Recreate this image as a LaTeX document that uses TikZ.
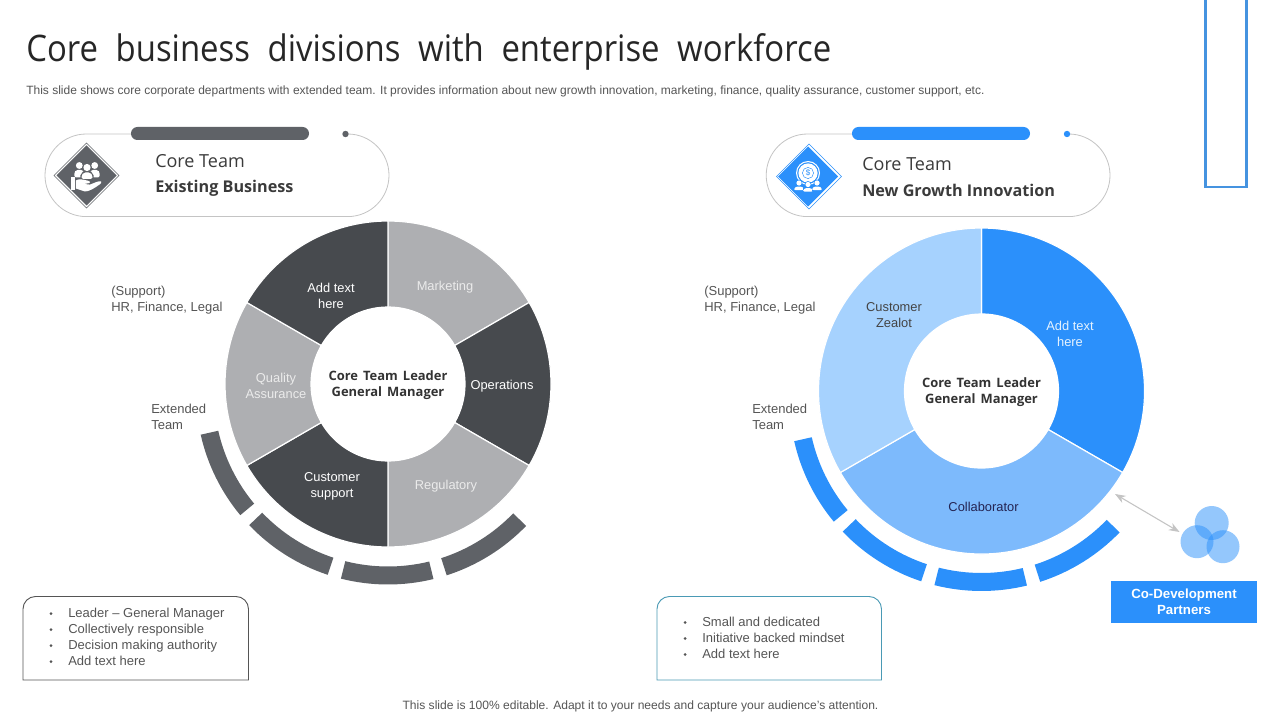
\documentclass[tikz,border=0pt]{standalone}
\usepackage{fontspec}
\setmainfont{Liberation Sans}
\newfontfamily\titlef{Open Sans}
\newfontfamily\titlefn[FakeStretch=.9]{Open Sans}
\usetikzlibrary{arrows.meta}
\definecolor{darkseg}{HTML}{474A4E}
\definecolor{greyseg}{HTML}{AEAFB2}
\definecolor{slatec}{HTML}{5F6267}
\definecolor{blueA}{HTML}{2B90FB}
\definecolor{blueB}{HTML}{7DBAFC}
\definecolor{blueC}{HTML}{A6D2FE}
\definecolor{textc}{HTML}{555555}
\definecolor{pillc}{HTML}{C4C4C4}
\definecolor{framec}{HTML}{4593E0}
\definecolor{tealc}{HTML}{4A9AB5}
\newcommand{\sector}[7]{\fill[fill=#7,draw=white,line width=.9pt]
  ([shift={(#5:#4)}]#1,-#2) arc[start angle=#5,end angle=#6,radius=#4]
  -- ([shift={(#6:#3)}]#1,-#2) arc[start angle=#6,end angle=#5,radius=#3] -- cycle;}
\newcommand{\band}[5]{\fill[fill=#5]
  ([shift={(#3:192)}]#1,-#2) arc[start angle=#3,end angle=#4,radius=192]
  -- ([shift={(#4:174)}]#1,-#2) arc[start angle=#4,end angle=#3,radius=174] -- cycle;}
\tikzset{
  x=.75pt,y=.75pt,
  lab/.style={font=\fontsize{9.75}{12}\selectfont,text=textc,align=left,inner sep=0pt},
  seg/.style={font=\fontsize{9.65}{12}\selectfont,align=center,inner sep=0pt},
  hole/.style={circle,fill=white,minimum size=115.5pt,inner sep=0pt,align=center,
     font=\titlef\bfseries\fontsize{9.7}{12}\selectfont,text=textc!60!black},
  pill/.style={draw=pillc,line width=.6pt},
  bartop/.style={rounded corners=4.8pt},
  headA/.style={font=\titlef\fontsize{13.5}{16}\selectfont,text=textc!70!black,anchor=west,inner sep=0pt},
  headB/.style={font=\titlef\bfseries\fontsize{12.15}{16}\selectfont,text=textc!70!black,anchor=west,inner sep=0pt},
  listbox/.style={line width=.7pt,rounded corners=0pt},
  ic/.style={fill=white,draw=none},
}
\begin{document}
\begin{tikzpicture}
\useasboundingbox (0,0) rectangle (1280,-720);
\fill[white] (0,0) rectangle (1280,-720);
% top right frame
\draw[framec,line width=2.2pt] (1205.5,0) -- (1205.5,-187) -- (1246.5,-187) -- (1246.5,0);
% title
\node[anchor=base west,inner sep=0pt,font=\titlefn\fontsize{27.4}{32}\selectfont,text=black!85] (title) at (26,-61.5)
  {\spaceskip=13.2pt Core business divisions with enterprise workforce};
\node[anchor=west,inner sep=0pt,font=\fontsize{9}{11}\selectfont,text=textc] (sub) at (26,-91)
  {This slide shows core corporate departments with extended team. It provides information about new growth innovation, marketing, finance, quality assurance, customer support, etc.};
\node[inner sep=0pt,font=\fontsize{9.05}{11}\selectfont,text=textc] (foot) at (640.5,-706)
  {This slide is 100\% editable. Adapt it to your needs and capture your audience’s attention.};

% left pill
\draw[pill] (131,-134) -- (86.3,-134) arc[start angle=90,end angle=270,radius=41.3] -- (347.7,-216.6) arc[start angle=-90,end angle=90,radius=41.3] -- (345,-134);
\fill[slatec,bartop] (131,-127) rectangle (309,-140);
\fill[slatec] (345.5,-134) circle[radius=3.2];
\fill[white] (86.5,-142) -- (120,-175.5) -- (86.5,-209) -- (53,-175.5) -- cycle;
\draw[slatec,line width=.5pt] (86.5,-143) -- (119,-175.5) -- (86.5,-208) -- (54,-175.5) -- cycle;
\fill[slatec] (86.5,-145.5) -- (116.5,-175.5) -- (86.5,-205.5) -- (56.5,-175.5) -- cycle;
% people + hand icon
\foreach \hx in {79.3,94.7}{
  \fill[ic] (\hx,-165.5) circle[radius=3.4];
  \fill[ic,rounded corners=1.2pt] (\hx-5,-177.5) -- (\hx-5,-172.5) -- (\hx-3,-169.8) -- (\hx+3,-169.8) -- (\hx+5,-172.5) -- (\hx+5,-177.5) -- cycle;
}
\fill[slatec] (87,-167.5) circle[radius=4.5];
\fill[ic] (87,-167.5) circle[radius=3.6];
\fill[slatec] (80.3,-179) -- (80.3,-175.5) -- (83,-171.5) -- (91,-171.5) -- (93.7,-175.5) -- (93.7,-179) -- cycle;
\fill[ic,rounded corners=1.2pt] (81.5,-179) -- (81.5,-175.5) -- (83.7,-172.5) -- (90.3,-172.5) -- (92.5,-175.5) -- (92.5,-179) -- cycle;
\fill[ic] (71,-177) rectangle (74.8,-190);
\fill[ic] (75.8,-180.5) .. controls (79,-178.5) and (83,-179.5) .. (87,-180.5) .. controls (91,-181) and (91,-183.5) .. (87,-183.5) -- (84,-184) -- (90,-184.6) .. controls (94,-183) and (99,-180.5) .. (101,-181.5) .. controls (102,-182.5) and (101,-183.5) .. (99.5,-184.5) .. controls (95,-188) and (89,-191.5) .. (85,-191.5) -- (75.8,-188.5) -- cycle;

\node[headA] (lcore) at (155,-161) {Core Team};
\node[headB] (lbiz) at (155,-188.5) {Existing Business};

% right pill
\draw[pill] (852,-134) -- (807.5,-134) arc[start angle=90,end angle=270,radius=41.3] -- (1068.7,-216.6) arc[start angle=-90,end angle=90,radius=41.3] -- (1067,-134);
\fill[blueA,bartop] (852,-127) rectangle (1030,-140);
\fill[blueA] (1067,-134) circle[radius=3.2];
\draw[blueA,line width=.5pt] (809,-144) -- (841.5,-176.5) -- (809,-209) -- (776.5,-176.5) -- cycle;
\fill[blueA] (808,-146.5) -- (838,-176.5) -- (808,-206.5) -- (778,-176.5) -- cycle;
% globe + people icon
\fill[ic] (808,-173) circle[radius=12];
\fill[blueA] (808,-173) circle[radius=10.8];
\fill[ic] (808,-173) circle[radius=9.6];
\draw[blueA,line width=.35pt] (808,-173) circle[radius=5.6];
\node[inner sep=0pt,font=\fontsize{6}{6}\selectfont,text=blueA] (dollar) at (808,-173) {\$};
\foreach \hx/\hy in {799/-183,808/-184.5,817/-183}{
  \fill[blueA] (\hx,\hy) circle[radius=3.4];
  \fill[ic] (\hx,\hy) circle[radius=2.6];
  \fill[blueA] (\hx-5.5,\hy-8) rectangle (\hx+5.5,\hy-3.2);
  \fill[ic,rounded corners=1pt] (\hx-4.8,\hy-7.2) -- (\hx-4.8,\hy-5.4) -- (\hx-3,\hy-3.6) -- (\hx+3,\hy-3.6) -- (\hx+4.8,\hy-5.4) -- (\hx+4.8,\hy-7.2) -- cycle;
}
\node[headA] (rcore) at (862,-164) {Core Team};
\node[headB] (rbiz) at (862,-190.5) {New Growth Innovation};

% left pie
\sector{388}{384}{77}{163}{30}{90}{greyseg}
\sector{388}{384}{77}{163}{-30}{30}{darkseg}
\sector{388}{384}{77}{163}{-90}{-30}{greyseg}
\sector{388}{384}{77}{163}{-150}{-90}{darkseg}
\sector{388}{384}{77}{163}{150}{210}{greyseg}
\sector{388}{384}{77}{163}{90}{150}{darkseg}
\fill[white] (388,-384) circle[radius=77];
\node[inner sep=0pt,align=center,font=\titlef\bfseries\fontsize{9.7}{12}\selectfont,text=textc!60!black] (lc) at (388,-385)
  {\spaceskip=3.8pt Core Team Leader\\\spaceskip=3.8pt General Manager};
\node[seg,text=white!92!black] (m) at (445,-287) {Marketing};
\node[seg,text=white] (o) at (502,-386) {Operations};
\node[seg,text=white!92!black] (r) at (446,-486) {Regulatory};
\node[seg,text=white] (cs) at (332,-486.5) {Customer\\support};
\node[seg,text=white!92!black] (qa) at (276,-386) {Quality\\Assurance};
\node[seg,text=white] (at) at (331,-295.5) {Add text\\here};
\band{388}{392.5}{192.7}{219.7}{slatec}
\band{388}{392.5}{223.7}{251.7}{slatec}
\band{388}{392.5}{255.8}{283.7}{slatec}
\band{388}{392.5}{287.8}{316}{slatec}

% right pie
\sector{981.5}{391}{77}{163}{-30}{90}{blueA}
\sector{981.5}{391}{77}{163}{-150}{-30}{blueB}
\sector{981.5}{391}{77}{163}{90}{210}{blueC}
\fill[white] (981.5,-391) circle[radius=77];
\node[inner sep=0pt,align=center,font=\titlef\bfseries\fontsize{9.7}{12}\selectfont,text=textc!60!black] (rc) at (981.5,-392.5)
  {\spaceskip=3.8pt Core Team Leader\\\spaceskip=3.8pt General Manager};
\node[seg,text=white!88!blueA] (rat) at (1070,-334) {Add text\\here};
\node[seg,text=textc!80!black] (cz) at (894,-315.5) {Customer\\Zealot};
\node[seg,text=textc!70!blue!60!black] (col) at (983.5,-507) {Collaborator};
\band{981.5}{399}{192.7}{219.7}{blueA}
\band{981.5}{399}{223.7}{251.7}{blueA}
\band{981.5}{399}{255.8}{283.7}{blueA}
\band{981.5}{399}{287.8}{316}{blueA}

% side labels
\node[lab,anchor=west] (ls) at (111,-300) {(Support)\\HR, Finance, Legal};
\node[lab,anchor=west] (le) at (151,-417) {Extended\\Team};
\node[lab,anchor=west] (rs) at (704,-300) {(Support)\\HR, Finance, Legal};
\node[lab,anchor=west] (re) at (752,-417) {Extended\\Team};

% co-development
\fill[blueA,opacity=.5] (1211.7,-523) circle[radius=17];
\fill[blueA,opacity=.5] (1197,-541.7) circle[radius=16.5];
\fill[blueA,opacity=.5] (1223,-546.7) circle[radius=16.5];
\coordinate (ca) at (1115,-494);
\coordinate (cb) at (1179.5,-532);
\draw[pillc,line width=.8pt,{Stealth[length=8pt,width=6pt]}-{Stealth[length=8pt,width=6pt]}] (ca) -- (cb);
\node[fill=blueA,minimum width=109.5pt,minimum height=31.5pt,inner sep=0pt,align=center,text=white,
  font=\bfseries\fontsize{9.95}{12}\selectfont] (codev) at (1184,-602) {Co-Development\\Partners};

% list boxes
\draw[textc,listbox] (23,-680) -- (23,-609) arc[start angle=180,end angle=90,radius=12.5] -- (236,-596.5) arc[start angle=90,end angle=0,radius=12.5] -- (248.5,-680) -- cycle;
\node[lab,anchor=north west] (lb) at (68,-608) {Leader – General Manager\\Collectively responsible\\Decision making authority\\Add text here};
\foreach \yy in {613.5,629.5,645.5,661.5}{\fill[textc] (51,-\yy) circle[radius=1.5];}
\draw[tealc,listbox] (657,-680) -- (657,-609) arc[start angle=180,end angle=90,radius=12.5] -- (869,-596.5) arc[start angle=90,end angle=0,radius=12.5] -- (881.5,-680) -- cycle;
\node[lab,anchor=north west] (rb) at (702,-617) {Small and dedicated\\Initiative backed mindset\\Add text here};
\foreach \yy in {622.5,638.5,654.5}{\fill[textc] (685,-\yy) circle[radius=1.5];}
\end{tikzpicture}
\end{document}
